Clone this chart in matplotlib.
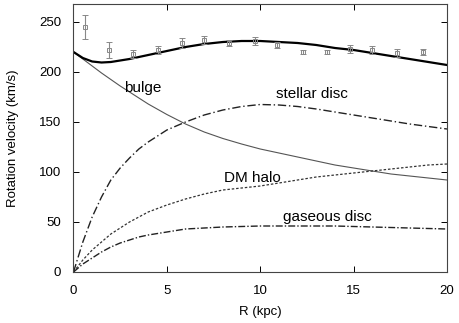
import matplotlib
matplotlib.use("Agg")
import matplotlib.pyplot as plt
import numpy as np

plt.rcParams['font.family'] = ['Liberation Sans', 'DejaVu Sans']

# observed rotation curve
obs_R = [0.6, 1.9, 3.2, 4.5, 5.8, 7.0, 8.35, 9.7, 10.9, 12.3, 13.6, 14.8, 16.0, 17.3, 18.7]
obs_v = [245, 222, 218, 222, 229, 232, 229, 231, 227, 220, 220, 223, 222, 219, 220]
obs_err = [12, 8, 4, 4, 5, 4, 3, 4, 3, 2, 2, 4, 4, 4, 3]

# model components
R_grid = [0, 0.5, 1, 1.5, 2, 2.5, 3, 3.5, 4, 5, 6, 7, 8, 9, 10, 11, 12, 13, 14, 15, 16, 17, 18, 19, 20]
v_total = [220, 214, 210.5, 209.5, 210, 211.5, 213, 215, 217, 221, 225, 228, 230, 231, 231, 230, 229, 227, 224, 222, 219, 216, 213, 210, 207]
v_bulge = [220, 213, 206, 199, 192.5, 186, 180, 174, 168, 157.5, 148, 140, 133.5, 128, 123, 119, 115, 111, 107, 104, 101, 98, 96, 94, 92]
v_stellar = [0, 30, 55, 75, 92, 104, 114, 123, 130, 142, 150, 157, 162, 165.5, 167.5, 167, 165.5, 163, 160, 157, 154, 151, 148, 145.5, 143]
v_dm = [0, 12, 22, 30, 38, 44, 50, 55, 60, 67, 73, 78, 82, 84, 86, 89, 92, 95, 97, 99, 101, 103, 105, 107, 108]
v_gas = [0, 8, 14, 20, 25, 29, 32, 35, 37, 40, 43, 44, 45, 45.5, 46, 46, 46, 46, 46, 45.5, 45, 44.5, 44, 43.5, 43]

labels = {"bulge": (3.7, 184), "stellar disc": (12.75, 178),
          "DM halo": (9.6, 94), "gaseous disc": (13.6, 55)}

fig = plt.figure(figsize=(4.6, 3.23), dpi=100)
ax = fig.add_axes([73.5/460, 1-272/323, (447-73.5)/460, (272-4)/323])

ax.plot(R_grid, v_bulge, color='#555555', lw=0.8, ls='-')
ax.plot(R_grid, v_stellar, color='#222222', lw=1.0, ls=(0, (6, 2, 1, 2)))
ax.plot(R_grid, v_dm, color='#333333', lw=0.9, ls=(0, (2, 1.5)))
ax.plot(R_grid, v_gas, color='#222222', lw=1.0, ls=(0, (5, 1.5, 1, 1.5)))
ax.plot(R_grid, v_total, color='black', lw=1.6, ls='-')

ax.errorbar(obs_R, obs_v, yerr=obs_err, fmt='s', ms=3, mfc='none', mec='#888888',
            ecolor='#888888', elinewidth=0.8, capsize=2, capthick=0.8, mew=0.7)

for t, (x, y) in labels.items():
    ax.text(x, y, t, fontsize=11, ha='center', va='center', color='black')

ax.set_xlim(0, 20)
ax.set_ylim(0, 268)
ax.set_xticks([0, 5, 10, 15, 20])
ax.set_yticks([0, 50, 100, 150, 200, 250])
ax.tick_params(direction='in', top=True, right=True, labelsize=9.5, length=4, width=0.7)
ax.tick_params(axis='x', pad=9)
ax.tick_params(axis='y', pad=9)
for s in ax.spines.values():
    s.set_linewidth(0.8)
    s.set_color('#444444')
ax.set_xlabel('R (kpc)', fontsize=9.5, labelpad=7)
ax.set_ylabel('Rotation velocity (km/s)', fontsize=9.5, labelpad=14)

fig.savefig('out.png', dpi=100)
